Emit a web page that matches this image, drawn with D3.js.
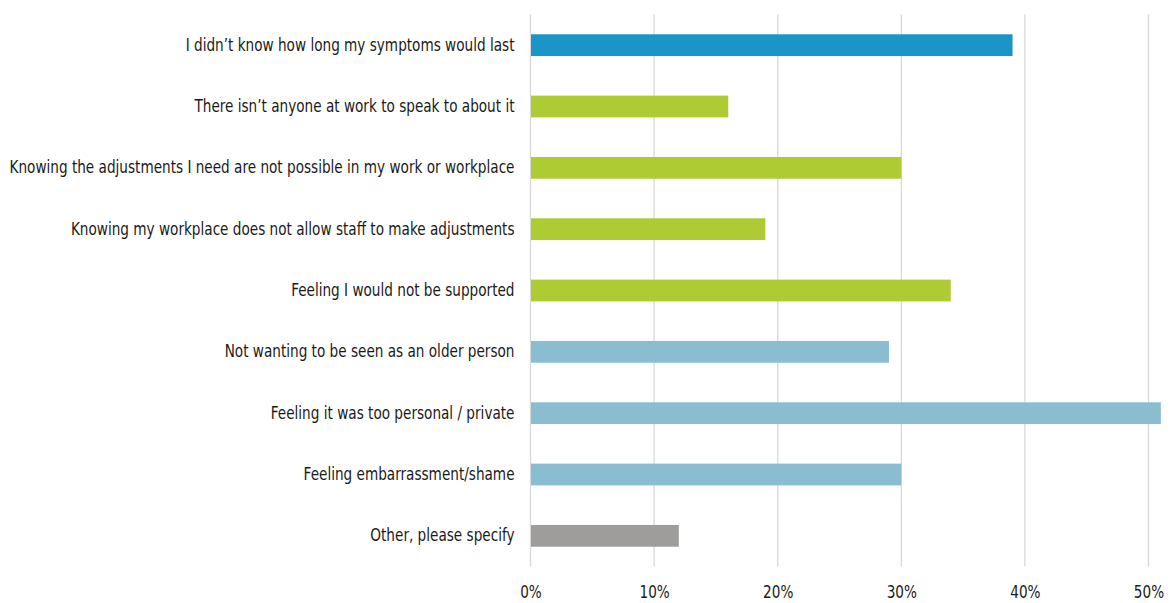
<!DOCTYPE html>
<html>
<head>
<meta charset="utf-8">
<script src="https://cdn.jsdelivr.net/npm/d3@7"></script>
<style>
  body { margin: 0; background: #fff; }
  text { font-family: "Liberation Sans Narrow", "Arial Narrow", "DejaVu Sans Condensed", sans-serif; fill: #1a1a1a; }
</style>
</head>
<body>
<div id="chart"></div>
<script>
// reasons for not disclosing
const categories = [
  "I didn\u2019t know how long my symptoms would last",
  "There isn\u2019t anyone at work to speak to about it",
  "Knowing the adjustments I need are not possible in my work or workplace",
  "Knowing my workplace does not allow staff to make adjustments",
  "Feeling I would not be supported",
  "Not wanting to be seen as an older person",
  "Feeling it was too personal / private",
  "Feeling embarrassment/shame",
  "Other, please specify"
];
const values = [0.39, 0.16, 0.30, 0.19, 0.34, 0.29, 0.51, 0.30, 0.12];
const groups = ["uncertain", "work", "work", "work", "work", "personal", "personal", "personal", "other"];
const xTicks = [0, 0.1, 0.2, 0.3, 0.4, 0.5];

const groupColor = {
  uncertain: "#1b94c8",
  work: "#aecb34",
  personal: "#8abdd0",
  other: "#9e9d9b"
};

const width = 1176;
const height = 603;

const svg = d3
  .select("#chart")
  .append("svg")
  .attr("width", width)
  .attr("height", height);

const x = d3.scaleLinear().domain([0, 0.5]).range([530.5, 1148.5]);

const y = d3
  .scaleBand()
  .domain(categories)
  .range([14.5, 566.5])
  .paddingInner(0.645)
  .paddingOuter(0.3225);

// gridlines
svg
  .append("g")
  .selectAll("line")
  .data(xTicks)
  .join("line")
  .attr("x1", d => x(d))
  .attr("x2", d => x(d))
  .attr("y1", 14.5)
  .attr("y2", 566.5)
  .attr("stroke", "#d9d9d9")
  .attr("stroke-width", 1.3);

// bars
svg
  .append("g")
  .selectAll("rect")
  .data(values)
  .join("rect")
  .attr("x", x(0) + 0.5)
  .attr("y", (d, i) => y(categories[i]))
  .attr("height", y.bandwidth())
  .attr("width", d => x(d) - x(0) - 0.5)
  .attr("fill", (d, i) => groupColor[groups[i]]);

// category labels
const yAxis = d3.axisLeft(y).tickSize(0).tickPadding(16);
const yLabels = svg
  .append("g")
  .attr("transform", `translate(${x(0)},0)`)
  .call(yAxis)
  .call(g => g.select(".domain").remove())
  .selectAll("text")
  .style("font-size", "17px")
  .attr("fill", "#1a1a1a");

// x tick labels
const xAxis = d3.axisBottom(x).tickValues(xTicks).tickFormat(d3.format(".0%")).tickSize(0).tickPadding(0);
const xLabels = svg
  .append("g")
  .attr("transform", "translate(0,586)")
  .call(xAxis)
  .call(g => g.select(".domain").remove())
  .selectAll("text")
  .style("font-size", "17px")
  .attr("fill", "#1a1a1a");

svg.selectAll("g.tick").each(function() {
  d3.select(this.parentNode).attr("font-family", null).attr("font-size", null);
});

// squeeze the fallback font to the narrow width of the original labels
const widest = d3.max(yLabels.nodes(), n => n.getComputedTextLength());
const k = 505 / widest;
const squeeze = function() {
  this.setAttribute("textLength", this.getComputedTextLength() * k);
  this.setAttribute("lengthAdjust", "spacingAndGlyphs");
};
yLabels.each(squeeze);
xLabels.each(squeeze);
</script>
</body>
</html>
